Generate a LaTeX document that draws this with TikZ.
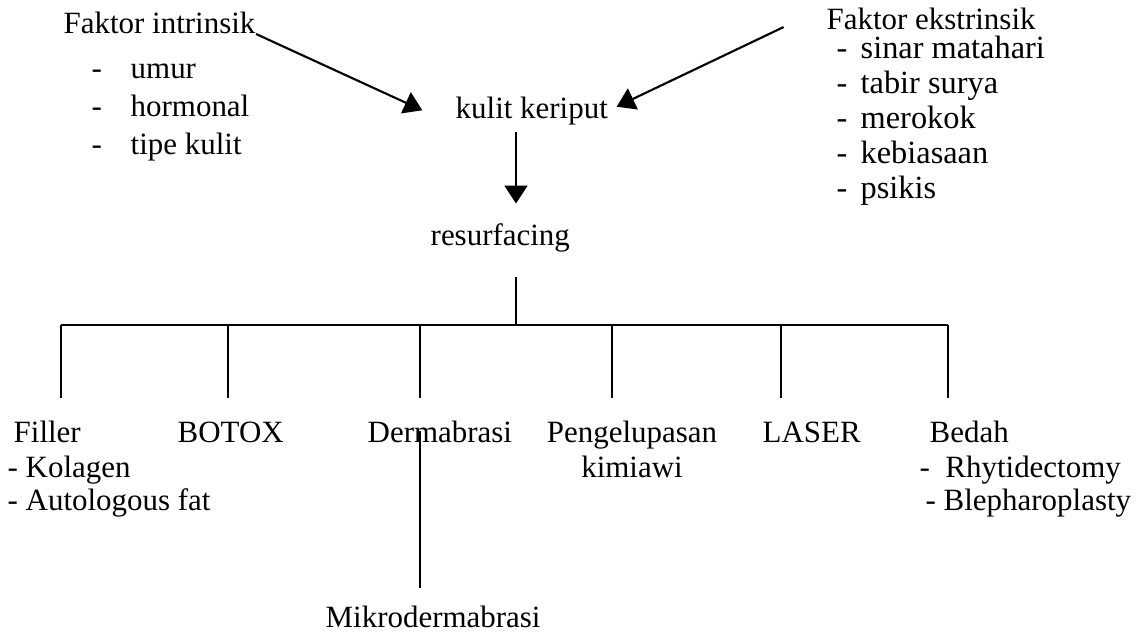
\documentclass[tikz,border=0pt]{standalone}
\usepackage{fontspec}
\setmainfont{Liberation Serif}
\usetikzlibrary{arrows.meta, positioning}

\begin{document}
\begin{tikzpicture}[x=0.01cm, y=-0.01cm, font=\fontsize{8.8}{10.6}\selectfont,
    txt/.style={inner sep=0pt, anchor=base west},
    big/.style={txt, font=\fontsize{9.2}{11}\selectfont},
    arr/.style={-{Triangle[length=1.8mm, width=2.3mm]}, line width=0.6pt},
    ln/.style={line width=0.6pt}]
    \useasboundingbox (0,0) rectangle (1138,632);
    \node[txt] (fi) at (63,33) {Faktor intrinsik};
    \foreach \y/\t [count=\i] in {78/umur, 116/hormonal, 154/tipe kulit} {
        \node[txt] (id\i) at (91,\y) {-};
        \node[txt] (in\i) at (130,\y) {\t};
    }
    \node[txt] (fe) at (826,29) {Faktor ekstrinsik};
    \foreach \y/\t [count=\i] in {58/sinar matahari, 93/tabir surya, 128/merokok, 163/kebiasaan, 198/psikis} {
        \node[big] (ed\i) at (836,\y) {-};
        \node[big] (ex\i) at (860,\y) {\t};
    }
    \node[txt] (kk) at (455,118) {kulit keriput};
    \node[txt] (rs) at (430,245) {resurfacing};
    \coordinate (hub) at (516,325);
    \draw[arr, shorten >=3.6mm] (fi.south east) -- (kk.south west);
    \draw[arr, shorten <=4.7mm, shorten >=0.9mm] (fe.north west) -- (kk.east);
    \draw[arr, shorten >=1.9mm] ([yshift=-0.7mm]kk.south -| hub) -- (rs.north -| hub);
    \draw[ln] ([yshift=-2.5mm]rs.south -| hub) -- (hub);
    \foreach \x [count=\i] in {61,228,420,612,781,948} {
        \coordinate (up\i) at (\x,325);
        \coordinate (dn\i) at (\x,398);
        \draw[ln] (up\i) -- (dn\i);
    }
    \draw[ln] (up1) -- (up6);
    \node[txt] (fil) at (13,442) {Filler};
    \node[txt] (kol) at (7,477) {- Kolagen};
    \node[txt] (aut) at (7,510) {- Autologous fat};
    \node[txt] (bot) at (177,442) {BOTOX};
    \node[txt] (der) at (367,442) {Dermabrasi};
    \node[txt] (mik) at (325,627) {Mikrodermabrasi};
    \node[txt, anchor=base] (pen) at (632,442) {Pengelupasan};
    \node[txt, anchor=base] (kim) at (632,477) {kimiawi};
    \node[txt] (las) at (762,442) {LASER};
    \node[txt] (bed) at (929,442) {Bedah};
    \node[txt] (rhy) at (919,477) {-~~Rhytidectomy};
    \node[txt] (ble) at (925,510) {- Blepharoplasty};
    \draw[ln, shorten >=1.7mm] (der.center -| dn3) -- (mik.north -| dn3);
\end{tikzpicture}
\end{document}
